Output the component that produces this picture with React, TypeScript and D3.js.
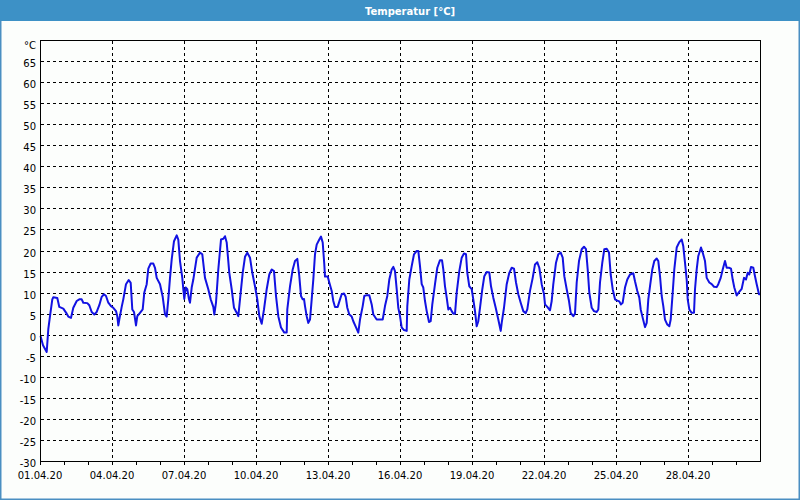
import React, { useEffect, useRef } from "react";
import * as d3 from "d3";

// hours since 01.04.20 00:00
const hours: number[] = [
  0.5, 3, 6.7, 8.3, 10, 12.3, 13.3, 17.3, 19.3, 23.3, 26.7, 28.3, 31, 33.3, 36.7, 39.3, 41.7, 43.3, 47.3, 49.3,
  51.7, 54.3, 56.7, 59.3, 61.7, 64, 66, 68.3, 71, 73.3, 76, 77.3, 78.3, 79.3, 81.7, 83.3, 86, 88.7, 90.7, 92.3,
  94, 96, 97.3, 100, 102.7, 104.3, 106.7, 108.3, 110.7, 113.3, 115, 116.7, 120, 122.7, 125, 126.7, 128.3, 130, 131.7, 134,
  136.7, 138.3, 140, 142.3, 143.3, 144.3, 145.7, 147.3, 149, 150, 151.7, 153.3, 156.7, 160, 162.3, 165, 168.3, 170.7, 173.3, 174.3,
  176, 178.3, 181, 183.3, 185, 186.7, 189.3, 191.7, 194, 196.7, 198.3, 200, 202.7, 205, 207.3, 210, 212.3, 215, 217.3, 219.3,
  221.7, 224, 226.7, 229.3, 231.7, 234, 236, 238.3, 241, 244.3, 246.7, 247.3, 250, 252.7, 255, 257.3, 259.3, 261, 262.7, 264,
  265, 266.7, 268.3, 270, 271.7, 273.3, 275, 276.7, 279.3, 281, 282.7, 284.3, 285, 287.7, 289.3, 291.7, 293.3, 295, 297.7, 300,
  301.7, 304, 305.7, 307.3, 309.3, 311.7, 313.3, 315.7, 318.3, 320, 322.7, 324.3, 326.7, 329.3, 331.7, 333.3, 336.7, 340, 342.7, 345,
  347.3, 349.3, 351.7, 353.3, 355, 356.7, 358.3, 360, 361.7, 364, 366.7, 367.3, 369.3, 371.7, 374, 376.7, 378.3, 380, 381.7, 383.3,
  385, 386.7, 389, 390.7, 392.3, 395, 397.3, 400, 402, 403.3, 405, 406.7, 408.3, 410, 411.7, 413.3, 415, 416.7, 419.3, 421.7,
  424, 426, 427.3, 429.3, 431.7, 433.3, 435, 436.7, 438.3, 440, 442.3, 444.3, 446.7, 449.3, 451, 453.3, 455.7, 458.3, 460.7, 461.7,
  464, 466.7, 469.3, 471.7, 474, 476, 478.3, 480.7, 483.3, 485.7, 487.3, 490, 492.7, 495, 497.3, 499.3, 501.7, 504, 505, 507.3,
  510, 511.7, 513.3, 516, 518.3, 520.7, 522.7, 524.3, 526.7, 529, 530.7, 533.3, 535, 536.7, 539, 541.7, 544, 546, 547.7, 549.3,
  551.7, 554, 556.7, 558.3, 560, 562.3, 564.3, 566.7, 569, 570.7, 572.7, 575, 577.3, 579.3, 581, 582.7, 585, 587.3, 590, 593.3,
  595, 597.3, 599.3, 600.7, 602.7, 605, 606.7, 608.3, 610, 612.3, 614.3, 616.7, 618.3, 620, 621.7, 623.3, 625, 627.3, 629.3, 630.7,
  632.7, 634.3, 636.7, 639.3, 641.7, 643.3, 645, 646.7, 647.7, 649.3, 651.7, 654, 655, 656.7, 658.3, 661, 662.7, 665, 666.7, 669.3,
  671.7, 674, 676.7, 678.3, 680.7, 682.7, 685, 686.7, 689, 691, 692.7, 694.3, 696.7, 699, 701.7, 704, 706, 707.7, 709.3, 711,
  713.3, 715, 716.7, 719, 720,
];

const temps: number[] = [
  -0.3, -2.5, -4.1, 1.3, 4.4, 8.4, 8.9, 8.7, 6.6, 6.2, 5.0, 4.3, 4.0, 6.4, 8.0, 8.4, 8.4, 7.6, 7.5, 7.0,
  5.4, 4.8, 5.4, 7.0, 9.0, 9.6, 9.2, 7.6, 6.8, 6.4, 5.6, 4.4, 2.2, 3.6, 6.6, 8.4, 12, 13, 12.3, 6,
  5.4, 2.2, 4.4, 5.2, 6, 10, 12, 15.7, 16.9, 16.9, 15.9, 13.5, 12, 9, 4.8, 4.3, 8.4, 13.5, 17.9, 22.2,
  23.6, 22.6, 17.5, 13.5, 10.8, 8.5, 11.2, 10.8, 8.4, 7.6, 11.2, 13.1, 18.3, 19.5, 19.1, 13.5, 10.8, 8.4, 6.6, 4.8,
  7.6, 15.5, 22.6, 22.8, 23.4, 21.9, 14.7, 10.8, 6.4, 5.2, 4.4, 8.4, 14.7, 18.5, 19.5, 18.3, 14.7, 11.5, 8.4, 4.4,
  2.6, 6, 10.8, 14.3, 15.5, 15.1, 9.2, 4.4, 1.7, 0.5, 0.5, 6, 11.5, 15.5, 17.5, 18, 13.9, 9.2, 8.4, 8.5,
  6.8, 4.4, 2.8, 3.6, 8.4, 13.1, 19.1, 21.4, 22.6, 23.3, 21.9, 16.7, 13.8, 13.8, 12.4, 10.4, 8, 6.6, 6.6, 8.4,
  9.6, 9.8, 9.0, 6.4, 4.8, 4.3, 3.2, 1.9, 0.5, 3.6, 6.8, 9.2, 9.4, 9.4, 7.2, 4.8, 3.6, 3.6, 3.6, 6.8,
  9.2, 13.1, 15.5, 16.1, 15.1, 10.8, 6.4, 4.4, 1.7, 1.1, 0.9, 6.8, 13.1, 16.3, 19.1, 19.9, 19.9, 16.3, 12, 11.2,
  8, 5.6, 3, 3.2, 7.2, 12, 15.9, 17.7, 17.7, 15.5, 11.5, 8.8, 6, 6.4, 5.6, 5, 5, 10, 15.1, 18.3,
  19.3, 19.1, 14.7, 11.5, 10.8, 8.4, 5.6, 2, 3.2, 6.4, 10.8, 13.9, 14.9, 14.8, 11.5, 8.8, 6.4, 3.6, 0.9, 2.8,
  6.4, 12, 14.7, 15.9, 15.7, 12.4, 9.6, 7.6, 5.6, 5.1, 6, 10.4, 13.5, 16.7, 17.2, 15.9, 12, 9.6, 7.2, 6.6,
  5.8, 8, 12, 17.1, 19.1, 19.5, 18.3, 13.9, 10.8, 8, 5.2, 4.4, 5, 12.4, 17.5, 20.3, 20.9, 20.3, 15.5, 10,
  6.4, 5.6, 5.4, 6, 12.4, 17.1, 20.3, 20.4, 19.5, 14.3, 10.8, 8.4, 8.1, 7.9, 7.2, 7.6, 11.2, 13.1, 14.3, 14.6,
  12.7, 10.4, 8.8, 6, 4, 1.8, 2.8, 8.4, 11.5, 15.5, 17.5, 18.1, 17.5, 13.9, 9.2, 6.8, 3.6, 2.4, 2.0, 3.6,
  10, 15.5, 20.7, 22, 22.6, 21, 17.1, 13.1, 8.4, 6, 5.2, 5.2, 10.8, 15.5, 18.7, 20.7, 19.5, 17.5, 13.5, 12.4,
  12, 11.4, 11.3, 12, 13.5, 15.5, 17.5, 15.9, 15.9, 15.7, 13.1, 11.2, 9.3, 10.1, 10.9, 13.5, 13.1, 14.7, 14.3, 16.1,
  15.9, 13.9, 12, 9.6, 9.6,
];

const yTicks: number[] = [-30, -25, -20, -15, -10, -5, 0, 5, 10, 15, 20, 25, 30, 35, 40, 45, 50, 55, 60, 65];
const yUnitLabel = "°C";
const title = "Temperatur [°C]";
const startDate = new Date(2020, 3, 1);
const endDate = new Date(2020, 4, 1);

export default function App() {
  const ref = useRef<SVGSVGElement>(null);

  useEffect(() => {
    document.body.style.margin = "0";
    const svg = d3.select(ref.current);
    svg.selectAll("*").remove();

    const W = 800, H = 500;
    const L = 40, R = 760, T = 40, B = 461;
    const font = "'DejaVu Sans', Verdana, sans-serif";

    const x = d3.scaleTime().domain([startDate, endDate]).range([L, R]);
    const y = d3.scaleLinear().domain([-30, 70]).range([B, T]);
    const px = (v: number) => Math.round(v) + 0.5;

    // background
    svg.append("rect").attr("x", 0).attr("y", 0).attr("width", W).attr("height", H).attr("fill", "#fcfefc");
    // frame
    svg.append("rect").attr("x", 0.75).attr("y", 0.75).attr("width", W - 1.5).attr("height", H - 1.5)
      .attr("fill", "none").attr("stroke", "#4a8fc2").attr("stroke-width", 1.5);
    // title bar
    svg.append("rect").attr("x", 0).attr("y", 0).attr("width", W).attr("height", 21).attr("fill", "#3d91c6");
    svg.append("text").attr("x", 410).attr("y", 15).attr("text-anchor", "middle")
      .attr("fill", "#ffffff").attr("font-family", font).attr("font-weight", "bold").attr("font-size", 10)
      .text(title);

    const days = d3.timeDay.range(startDate, endDate);
    const majorDays = d3.timeDay.every(3)!.range(startDate, endDate).filter((d) => +d !== +startDate);
    const labelDays = d3.timeDay.every(3)!.range(startDate, endDate);

    const grid = svg.append("g").attr("stroke", "#000").attr("stroke-width", 1).attr("stroke-dasharray", "3,3");
    grid.selectAll("line.h").data(yTicks.filter((v) => v > -30)).join("line")
      .attr("x1", L + 1).attr("x2", R).attr("y1", (d) => px(y(d))).attr("y2", (d) => px(y(d)));
    grid.selectAll("line.v").data(majorDays).join("line")
      .attr("x1", (d) => px(x(d))).attr("x2", (d) => px(x(d))).attr("y1", T + 1).attr("y2", B);

    // data line
    const pts = hours.map((h, i) => ({ t: new Date(+startDate + h * 3600000), v: temps[i] }));
    const line = d3.line<{ t: Date; v: number }>().x((d) => x(d.t)).y((d) => y(d.v));
    svg.append("path").datum(pts).attr("d", line).attr("fill", "none")
      .attr("stroke", "#1212e2").attr("stroke-width", 2).attr("stroke-linejoin", "round");

    // border
    svg.append("rect").attr("x", px(L)).attr("y", px(T)).attr("width", Math.round(R) - Math.round(L))
      .attr("height", Math.round(B) - Math.round(T)).attr("fill", "none").attr("stroke", "#000").attr("stroke-width", 1);

    // x ticks
    svg.append("g").attr("stroke", "#000").selectAll("line").data(days).join("line")
      .attr("x1", (d) => px(x(d))).attr("x2", (d) => px(x(d))).attr("y1", B).attr("y2", B + 4);

    const fmt = d3.timeFormat("%d.%m.%y");
    svg.append("g").selectAll("text").data(labelDays).join("text")
      .attr("x", (d) => x(d)).attr("y", 479).attr("text-anchor", "middle")
      .attr("font-family", font).attr("font-size", 10).attr("fill", "#000").text((d) => fmt(d));

    // y labels
    svg.append("g").selectAll("text").data(yTicks).join("text")
      .attr("x", 36).attr("y", (d) => y(d) + 6).attr("text-anchor", "end")
      .attr("font-family", font).attr("font-size", 10).attr("fill", "#000").text((d) => String(d));
    svg.append("text").attr("x", 36).attr("y", y(70) + 9).attr("text-anchor", "end")
      .attr("font-family", font).attr("font-size", 10).attr("fill", "#000").text(yUnitLabel);
  }, []);

  return <svg ref={ref} width={800} height={500} style={{ display: "block" }} />;
}
